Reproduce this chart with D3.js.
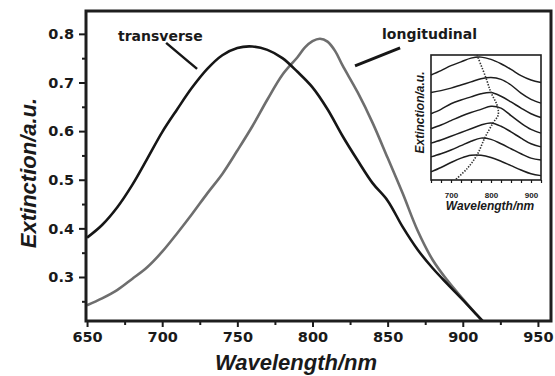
<!DOCTYPE html>
<html>
<head>
<meta charset="utf-8">
<script src="https://cdn.jsdelivr.net/npm/d3@7"></script>
<style>
body{margin:0;background:#fff}
svg{display:block;background:#fff}
.main .tick text{font-family:"DejaVu Sans",sans-serif;font-weight:bold;font-size:14.5px;fill:#1a1a1a}
.ins .tick text{font-family:"Liberation Sans",Arial,sans-serif;font-weight:bold;font-size:8px;fill:#1a1a1a}
.tick line{stroke:#1a1a1a}
.title{font-family:"Liberation Sans",Arial,sans-serif;font-weight:bold;font-style:italic;fill:#1a1a1a}
.note{font-family:"DejaVu Sans",sans-serif;font-weight:bold;font-size:14px;fill:#1a1a1a}
</style>
</head>
<body>
<svg id="chart"></svg>
<script>
// main spectra
var transverseNm  = [650,660,670,680,690,700,710,720,730,740,750,760,770,780,790,800,810,820,830,840,850,860,870,880,890,900,910,914]
var transverseExt = [0.381,0.407,0.443,0.489,0.543,0.598,0.645,0.690,0.728,0.756,0.771,0.774,0.767,0.750,0.722,0.690,0.645,0.590,0.540,0.493,0.457,0.403,0.356,0.318,0.285,0.253,0.220,0.207]
var longitudinalNm  = [650,660,670,680,690,700,710,720,730,740,750,760,770,780,790,795,800,805,810,815,820,830,840,850,860,870,880,890,900,910,914]
var longitudinalExt = [0.242,0.256,0.273,0.296,0.320,0.352,0.390,0.430,0.472,0.512,0.560,0.610,0.665,0.716,0.752,0.772,0.785,0.790,0.784,0.765,0.735,0.680,0.617,0.545,0.472,0.395,0.335,0.292,0.255,0.220,0.207]

var xTicks = [650,700,750,800,850,900,950]
var xMinor = [675,725,775,825,875,925]
var yTicks = [0.3,0.4,0.5,0.6,0.7,0.8]
var yMinor = [0.25,0.35,0.45,0.55,0.65,0.75]

// inset spectra (arbitrary units, offset)
var insetNm = [650,675,700,725,750,775,800,825,850,875,900,925]
var insetCurves = [
    [0.84,0.875,0.915,0.945,0.975,0.983,0.965,0.93,0.885,0.835,0.80,0.78],
    [0.70,0.715,0.735,0.76,0.785,0.81,0.82,0.805,0.76,0.695,0.645,0.615],
    [0.53,0.565,0.61,0.64,0.665,0.69,0.70,0.67,0.625,0.575,0.53,0.50],
    [0.41,0.44,0.475,0.51,0.54,0.565,0.59,0.575,0.515,0.455,0.405,0.375],
    [0.295,0.32,0.35,0.38,0.41,0.44,0.456,0.43,0.385,0.335,0.29,0.265],
    [0.185,0.21,0.24,0.275,0.31,0.335,0.325,0.29,0.25,0.21,0.175,0.16],
    [0.065,0.10,0.14,0.175,0.198,0.198,0.18,0.15,0.115,0.08,0.05,0.035]
]
var peakNm  = [765,787,800,815,818,805,785,765,740,710]
var peakExt = [1.0,0.82,0.70,0.60,0.52,0.456,0.34,0.20,0.09,0.0]
var insetTicks = [650,675,700,725,750,775,800,825,850,875,900,925]
var insetLabels = [700,800,900]

var screen = {width:555, height:376}
var frame = {left:86, right:551, top:11, bottom:321}
var inset = {left:431, right:541, top:55, bottom:180}

var target = d3.select("#chart")
    .attr("width", screen.width)
    .attr("height", screen.height)

var xScale = d3.scaleLinear().domain([649.3,958.7]).range([frame.left,frame.right])
var yScale = d3.scaleLinear().domain([0.2095,0.847]).range([frame.bottom,frame.top])

var createAxes = function(target)
{
    var axes = target.append("g").classed("main", true)
    axes.append("g")
        .attr("transform","translate(0,"+frame.bottom+")")
        .call(d3.axisBottom(xScale).tickValues(xTicks).tickSize(6).tickPadding(5).tickFormat(d3.format("d")))
    axes.append("g")
        .attr("transform","translate(0,"+frame.bottom+")")
        .call(d3.axisBottom(xScale).tickValues(xMinor).tickSize(4).tickFormat(""))
    axes.append("g")
        .attr("transform","translate("+frame.left+",0)")
        .call(d3.axisLeft(yScale).tickValues(yTicks).tickSize(7).tickPadding(5).tickFormat(d3.format(".1f")))
    axes.append("g")
        .attr("transform","translate("+frame.left+",0)")
        .call(d3.axisLeft(yScale).tickValues(yMinor).tickSize(4).tickFormat(""))
    axes.selectAll(".domain").remove()
    axes.selectAll(".tick line").attr("stroke-width", 2)

    target.append("rect")
        .attr("x", frame.left).attr("y", frame.top)
        .attr("width", frame.right-frame.left).attr("height", frame.bottom-frame.top)
        .attr("fill","none").attr("stroke","#1e1e1e").attr("stroke-width",3)
}

var drawLines = function(target)
{
    target.append("clipPath").attr("id","plotclip")
        .append("rect")
        .attr("x", frame.left).attr("y", frame.top)
        .attr("width", frame.right-frame.left).attr("height", frame.bottom-frame.top)

    var lineGenerator = d3.line()
        .x(function(d){return xScale(d[0])})
        .y(function(d){return yScale(d[1])})
        .curve(d3.curveCatmullRom)

    var g = target.append("g").attr("clip-path","url(#plotclip)")
    g.append("path")
        .datum(d3.zip(longitudinalNm, longitudinalExt))
        .attr("d", lineGenerator)
        .attr("fill","none").attr("stroke","#6e6e6e").attr("stroke-width",2.6)
    g.append("path")
        .datum(d3.zip(transverseNm, transverseExt))
        .attr("d", lineGenerator)
        .attr("fill","none").attr("stroke","#161616").attr("stroke-width",2.6)
}

var createLabels = function(target)
{
    var labels = target.append("g").classed("labels", true)
    labels.append("text")
        .text("Wavelength/nm")
        .classed("title", true)
        .attr("font-size", 22)
        .attr("text-anchor","middle")
        .attr("x", 296).attr("y", 370)
    labels.append("g")
        .attr("transform","translate(36,173)")
        .append("text")
        .text("Extinction/a.u.")
        .classed("title", true)
        .attr("font-size", 22)
        .attr("text-anchor","middle")
        .attr("transform","rotate(270)")

    labels.append("text").classed("note", true)
        .text("transverse")
        .attr("x", xScale(670.6)).attr("y", yScale(0.7856))
    labels.append("line")
        .attr("x1", xScale(702.6)).attr("y1", yScale(0.7815))
        .attr("x2", xScale(723.2)).attr("y2", yScale(0.728))
        .attr("stroke","#161616").attr("stroke-width",2.5)
    labels.append("text").classed("note", true)
        .text("longitudinal")
        .attr("x", xScale(846.3)).attr("y", yScale(0.79))
    labels.append("line")
        .attr("x1", xScale(828.3)).attr("y1", yScale(0.734))
        .attr("x2", xScale(858.3)).attr("y2", yScale(0.771))
        .attr("stroke","#161616").attr("stroke-width",3)
}

var drawInset = function(target)
{
    var ix = d3.scaleLinear().domain([650,925]).range([inset.left,inset.right])
    var iy = d3.scaleLinear().domain([0,1]).range([inset.bottom,inset.top])
    var g = target.append("g").classed("ins", true)

    g.append("rect")
        .attr("x", inset.left).attr("y", inset.top)
        .attr("width", inset.right-inset.left).attr("height", inset.bottom-inset.top)
        .attr("fill","#fff").attr("stroke","#1e1e1e").attr("stroke-width",1.6)

    var ax = g.append("g")
        .attr("transform","translate(0,"+inset.bottom+")")
        .call(d3.axisBottom(ix).tickValues(insetTicks).tickSize(3).tickPadding(9)
            .tickFormat(function(d){return insetLabels.indexOf(d) >= 0 ? d : ""}))
    ax.select(".domain").remove()
    ax.selectAll(".tick line").attr("stroke-width",1.2)

    var line = d3.line()
        .x(function(d,i){return ix(insetNm[i])})
        .y(function(d){return iy(d)})
        .curve(d3.curveCatmullRom)

    g.selectAll(".icurve")
        .data(insetCurves)
        .enter()
        .append("path")
        .classed("icurve", true)
        .attr("d", line)
        .attr("fill","none").attr("stroke","#1e1e1e").attr("stroke-width",1.5)

    g.append("path")
        .datum(d3.zip(peakNm, peakExt))
        .attr("d", d3.line()
            .x(function(d){return ix(d[0])})
            .y(function(d){return iy(d[1])})
            .curve(d3.curveCatmullRom))
        .attr("fill","none").attr("stroke","#333").attr("stroke-width",1.6)
        .attr("stroke-dasharray","1.4,1.4")

    g.append("text").classed("title", true)
        .text("Wavelength/nm")
        .attr("font-size", 12)
        .attr("text-anchor","middle")
        .attr("x", (inset.left+inset.right)/2 + 4).attr("y", 210)
    g.append("g")
        .attr("transform","translate(424,"+((inset.top+inset.bottom)/2-5)+")")
        .append("text").classed("title", true)
        .text("Extinction/a.u.")
        .attr("font-size", 12)
        .attr("text-anchor","middle")
        .attr("transform","rotate(270)")
}

drawLines(target)
createAxes(target)
createLabels(target)
drawInset(target)
</script>
</body>
</html>
